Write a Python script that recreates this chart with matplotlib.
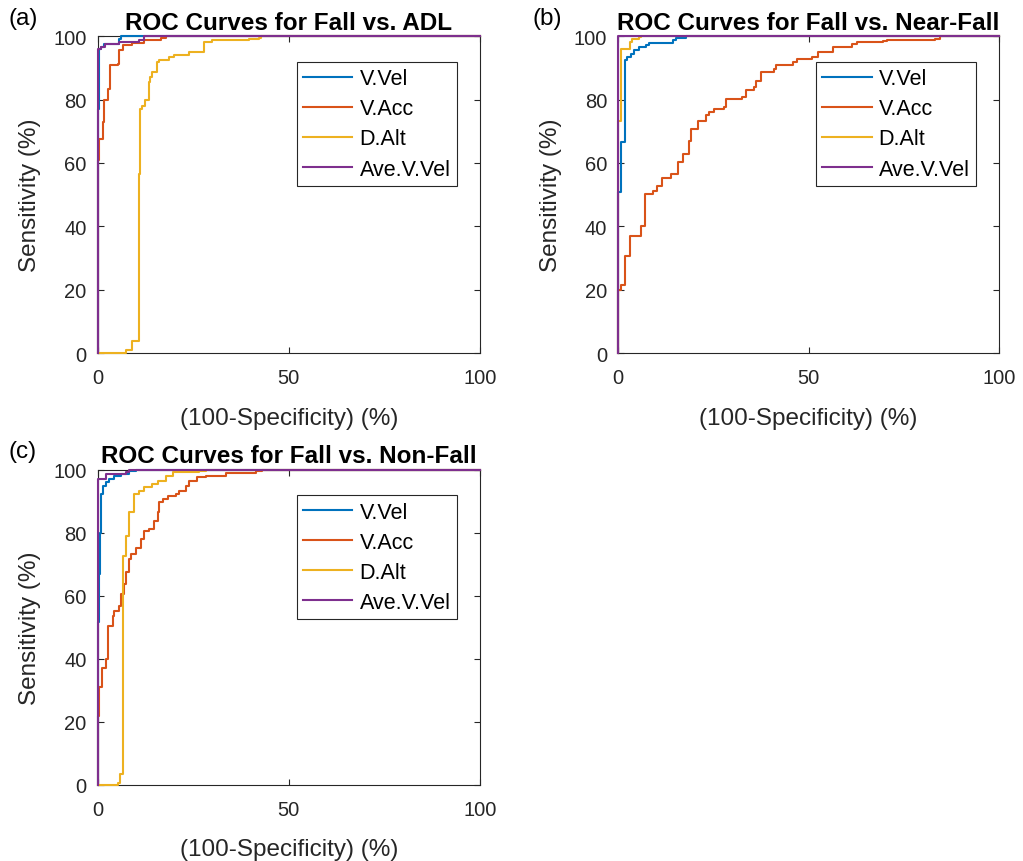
import numpy as np
import matplotlib
matplotlib.use("Agg")
from matplotlib import pyplot as plt

plt.rcParams['font.family'] = ['Liberation Sans', 'DejaVu Sans']

# ROC staircase points: (100-specificity, sensitivity) in %, each point starts a plateau
# (a) Fall vs. ADL
adl_vvel_x = [0, 0, 0.4, 0.9, 1.7, 5.7, 6.1, 100]
adl_vvel_y = [0, 77, 96, 96.6, 97.5, 99.3, 100, 100]
adl_vacc_x = [0, 0, 0.4, 1.3, 1.7, 2.6, 3.2, 5.2, 5.5, 6.5, 9.1, 12.2, 16.5, 17.8, 100]
adl_vacc_y = [0, 61, 67.6, 72.9, 80, 83.4, 90.8, 91.3, 95.6, 97.1, 98, 98.7, 99.5, 100, 100]
adl_dalt_x = [0, 7.4, 9.1, 10.7, 11.1, 11.7, 12.5, 13.3, 13.7, 14.3, 15.4, 16.1, 18.7, 20,
              23.9, 27.8, 30, 39.6, 42.2, 42.6, 100]
adl_dalt_y = [0, 0.8, 3.7, 56.5, 77, 78, 80, 85.5, 87, 88.7, 91.9, 92.4, 93.5, 94.2,
              95, 98.2, 98.7, 99.3, 99.5, 100, 100]
adl_ave_x = [0, 0, 0.9, 2, 5.7, 10.9, 12.2, 100]
adl_ave_y = [0, 96, 96.6, 97.5, 98.2, 98.7, 100, 100]

# (b) Fall vs. Near-Fall
near_vvel_x = [0, 0, 0.7, 1.8, 2.4, 3.3, 4.2, 5.5, 7.3, 8.1, 14.3, 15.1, 17.8, 100]
near_vvel_y = [0, 50.7, 66.5, 92.4, 93.5, 94.5, 95.6, 96.6, 97.1, 98, 98.7, 99.5, 100, 100]
near_vacc_x = [0, 0, 0.7, 1.8, 3.1, 6, 7.1, 9.2, 10.2, 11.5, 13.8, 15.6, 16.9, 18.6, 19.1,
               21, 23, 23.9, 25.2, 27.8, 28.2, 32.6, 33.5, 35.7, 36.1, 37.4, 41, 41.4,
               46, 46.9, 50.8, 52.5, 56.5, 61.3, 62.6, 69.6, 70.5, 83.2, 84.5, 100]
near_vacc_y = [0, 20, 21.6, 30.6, 37, 40.1, 50.2, 51.2, 52.8, 55.4, 56.5, 60.2, 62.8, 67, 70.8,
               73.4, 75, 76, 77.1, 77.6, 80.3, 80.8, 82.9, 83.9, 86, 88.7, 89.8, 90.8,
               91.8, 92.8, 93.4, 94.9, 96.5, 97.6, 98.1, 98.6, 98.9, 99.2, 100, 100]
near_dalt_x = [0, 0, 0.7, 3, 3.5, 5.5, 6, 100]
near_dalt_y = [0, 73.4, 96, 98.2, 99, 99.7, 100, 100]
near_ave_x = [0, 0, 100]
near_ave_y = [0, 100, 100]

# (c) Fall vs. Non-Fall
non_vvel_x = [0, 0, 0.3, 0.5, 0.9, 1.3, 2.2, 3, 4.3, 6.1, 8.3, 10, 100]
non_vvel_y = [0, 51.5, 66.9, 80, 92.3, 94.9, 96, 97, 98.1, 98.6, 99.7, 100, 100]
non_vacc_x = [0, 0, 0.4, 1.1, 2.2, 2.6, 3.9, 4.3, 5.7, 6.1, 7, 7.4, 8.3, 8.7, 10, 11.3,
              12.2, 13.5, 14.8, 15.7, 16.1, 17, 18.3, 20.4, 21.3, 23, 23.9, 26.1, 28.3,
              33.5, 41.3, 43, 100]
non_vacc_y = [0, 21.9, 30.9, 37.2, 39.9, 50.5, 53.7, 55.2, 56.8, 60.5, 63.7, 67.4, 71.6, 73.2,
              75.3, 78, 80.6, 81.2, 83.8, 86.5, 89.6, 90.7, 91.5, 92.3, 93.3, 94.9, 96.5,
              97.6, 98.1, 98.9, 99.5, 100, 100]
non_dalt_x = [0, 5.2, 5.8, 6.5, 7.4, 8.3, 9.6, 10.9, 12.2, 14.3, 15.7, 17.8, 19.6, 26.5, 28.3, 100]
non_dalt_y = [0, 0.5, 3.4, 72.7, 79, 86.5, 92.3, 93.3, 94.4, 95.4, 96.5, 98.1, 99.2, 99.7, 100, 100]
non_ave_x = [0, 0, 2.2, 7.4, 8.3, 100]
non_ave_y = [0, 97, 98.6, 99.2, 100, 100]

names = ['V.Vel', 'V.Acc', 'D.Alt', 'Ave.V.Vel']
colors = ['#0072BD', '#D95319', '#EDB120', '#7E2F8E']
titles = ['ROC Curves for Fall vs. ADL',
          'ROC Curves for Fall vs. Near-Fall',
          'ROC Curves for Fall vs. Non-Fall']
letters = ['(a)', '(b)', '(c)']

panels = [
    [(adl_vvel_x, adl_vvel_y), (adl_vacc_x, adl_vacc_y),
     (adl_dalt_x, adl_dalt_y), (adl_ave_x, adl_ave_y)],
    [(near_vvel_x, near_vvel_y), (near_vacc_x, near_vacc_y),
     (near_dalt_x, near_dalt_y), (near_ave_x, near_ave_y)],
    [(non_vvel_x, non_vvel_y), (non_vacc_x, non_vacc_y),
     (non_dalt_x, non_dalt_y), (non_ave_x, non_ave_y)],
]

W, H = 1023, 862
# axes boxes in pixels: left, top, right, bottom
boxes = [(97.7, 37.3, 480, 354), (618.3, 37.3, 999, 354), (97.7, 470.7, 480, 785.7)]
letter_pos = [(9, 19), (532, 19), (9, 452)]

dark = '#262626'
fig = plt.figure(figsize=(W / 100, H / 100), dpi=100)

for k in range(3):
    l, t, r, b = boxes[k]
    ax = fig.add_axes([l / W, (H - b) / H, (r - l) / W, (b - t) / H])
    for (x, y), c, n in zip(panels[k], colors, names):
        ax.plot(x, y, drawstyle='steps-post', color=c, lw=1.5, label=n,
                clip_on=False, zorder=3)
    ax.set_xlim(0, 100)
    ax.set_ylim(0, 100)
    ax.set_xticks([0, 50, 100])
    ax.set_yticks([0, 20, 40, 60, 80, 100])
    ax.tick_params(direction='in', top=True, right=True, length=4, width=0.8,
                   color=dark, labelcolor=dark, labelsize=14.5)
    ax.tick_params(axis='x', pad=11)
    ax.tick_params(axis='y', pad=8)
    for s in ax.spines.values():
        s.set_color(dark)
        s.set_linewidth(0.8)
    ax.set_xlabel('(100-Specificity) (%)', fontsize=17.5, color=dark, va='center')
    ax.xaxis.set_label_coords(0.5, -0.205)
    ax.set_ylabel('Sensitivity (%)', fontsize=17.5, color=dark, va='center')
    ax.yaxis.set_label_coords(-0.178, 0.5)
    ax.set_title(titles[k], fontsize=17.5, fontweight='bold', pad=5.5)
    leg = ax.legend(loc='upper right', bbox_to_anchor=(0.94, 0.919), borderaxespad=0,
                    fontsize=15.5, fancybox=False, framealpha=1, edgecolor=dark,
                    handlelength=2.3, handletextpad=0.33, labelspacing=0.42,
                    borderpad=0.3)
    leg.get_frame().set_linewidth(0.8)
    fig.text(letter_pos[k][0] / W, 1 - letter_pos[k][1] / H, letters[k],
             fontsize=17.5, va='center', ha='left')

fig.savefig('out.png', dpi=100)
